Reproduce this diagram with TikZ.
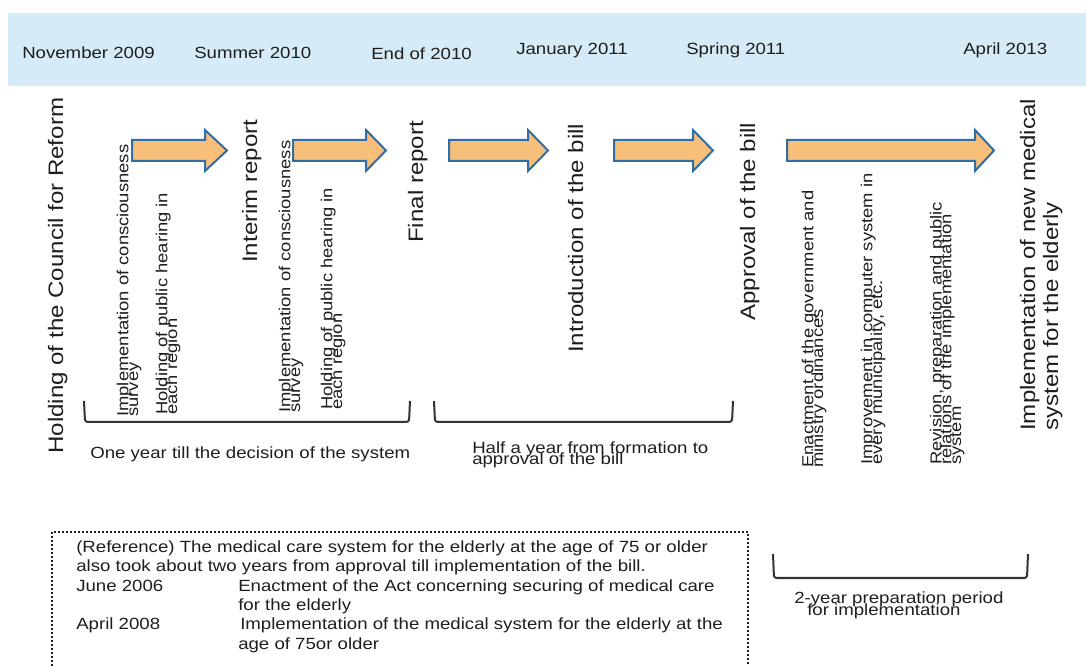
\documentclass[tikz,border=0pt]{standalone}
\usepackage{fontspec}
\newfontfamily\jf{Liberation Sans}[FakeStretch=1.15]
\definecolor{bandblue}{HTML}{D5EBF8}
\definecolor{arrfill}{HTML}{F7BF79}
\definecolor{arrline}{HTML}{2F6EA6}
\definecolor{txt}{HTML}{1E1E1E}
\definecolor{brkcol}{HTML}{333333}
\setlength{\lineskiplimit}{-50pt}
\newcommand\blockarr[3]{\draw[barrow] (#1,140) -- (#2,140) -- (#2,130) -- (#3,150.5) -- (#2,171) -- (#2,161) -- (#1,161) -- cycle;}
\begin{document}
\begin{tikzpicture}[x=0.75pt,y=-0.75pt,
  date/.style={anchor=base west, inner sep=0, text=txt, font=\jf\fontsize{12.15pt}{14pt}\selectfont},
  bigv/.style={rotate=90, anchor=base west, inner sep=0, align=left, text=txt, font=\jf\fontsize{15.7pt}{17.25pt}\selectfont},
  smallv/.style={rotate=90, anchor=base west, inner sep=0, align=left, text=txt, font=\jf\fontsize{12pt}{7.3pt}\selectfont},
  lab/.style={anchor=base west, inner sep=0, align=left, text=txt, font=\jf\fontsize{12.15pt}{9pt}\selectfont},
  boxtxt/.style={anchor=base west, inner sep=0, align=left, text=txt, font=\jf\fontsize{12.15pt}{14.5pt}\selectfont},
  barrow/.style={fill=arrfill, draw=arrline, line width=1.5pt, line join=miter},
  brk/.style={draw=brkcol, line width=1.5pt, rounded corners=2pt},
  dotbox/.style={draw=txt, line width=1.1pt, dash pattern=on 1.5pt off 1.5pt}
]
\useasboundingbox (0,0) rectangle (1086,666);
\clip (0,0) rectangle (1086,666);
% top band
\fill[bandblue] (8,13) rectangle (1086,86);
\node[date] (d1) at (22,59) {November 2009};
\node[date] (d2) at (194,59) {Summer 2010};
\node[date] (d3) at (371,60) {End of 2010};
\node[date] (d4) at (516,55) {January 2011};
\node[date] (d5) at (686,55) {Spring 2011};
\node[date] (d6) at (963,55) {April 2013};
% milestones (anchor = baseline of the last line)
\node[bigv] (council) at (63,454) {Holding of the Council for Reform};
\node[bigv] (interim) at (257,263) {Interim report};
\node[bigv] (final) at (423,243) {Final report};
\node[bigv] (intro) at (583,353) {Introduction of the bill};
\node[bigv] (approval) at (755,321) {Approval of the bill};
\node[bigv] (impl) at (1058,431) {Implementation of new medical\\system for the elderly};
% activities
\node[smallv] (s1) at (138,417) {Implementation of consciousness\\survey};
\node[smallv] (s2) at (177,415) {Holding of public hearing in\\each region};
\node[smallv] (s3) at (300,413) {Implementation of consciousness\\survey};
\node[smallv] (s4) at (342,410) {Holding of public hearing in\\each region};
\node[smallv] (s5) at (823,468) {Enactment of the government and\\ministry ordinances};
\node[smallv] (s6) at (882,465) {Improvement in computer system in\\every municipality, etc.};
\node[smallv] (s7) at (961,465) {Revision, preparation and public\\relations of the implementation\\system};
% block arrows
\blockarr{132}{205}{227}
\blockarr{293}{366}{386}
\blockarr{449}{528}{548}
\blockarr{614}{693}{713}
\blockarr{787}{975}{994}
% brackets
\draw[brk] (84,401) -- (85,422) -- (409,422) -- (410,401);
\draw[brk] (434,401) -- (435,422) -- (732,422) -- (733,401);
\draw[brk] (773,554) -- (774,578) -- (1027,578) -- (1028,554);
\node[lab] (l1) at (90,459) {One year till the decision of the system};
\node[lab] (l2) at (472,465) {Half a year from formation to\\approval of the bill};
\node[lab] (l3) at (794,615) {2-year preparation period\\\hspace*{9.75pt}for implementation};
% reference box
\draw[dotbox] (52,532) rectangle (748,700);
\node[boxtxt] (ref) at (76,649) {(Reference) The medical care system for the elderly at the age of 75 or older\\
also took about two years from approval till implementation of the bill.\\
\makebox[121.5pt][l]{June 2006}Enactment of the Act concerning securing of medical care\\
\makebox[121.5pt][l]{}for the elderly\\
\makebox[121.5pt][l]{April 2008}\hspace{1.5pt}Implementation of the medical system for the elderly at the\\
\makebox[121.5pt][l]{}age of 75or older};
\end{tikzpicture}
\end{document}
